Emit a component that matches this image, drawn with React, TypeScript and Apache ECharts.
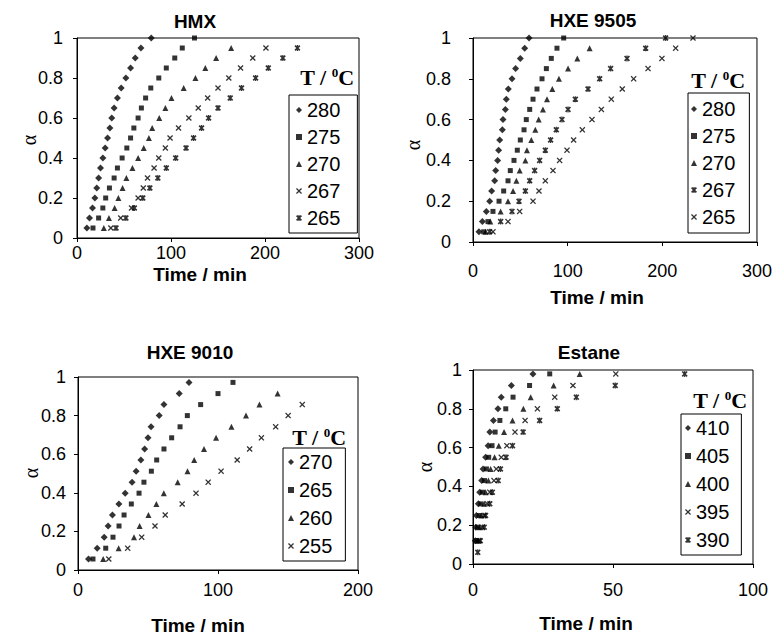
import React, { useEffect, useRef } from "react";
import * as echarts from "echarts";

// ---------- data ----------
const alpha20 = [0.05, 0.1, 0.15, 0.2, 0.25, 0.3, 0.35, 0.4, 0.45, 0.5, 0.55, 0.6, 0.65, 0.7, 0.75, 0.8, 0.85, 0.9, 0.95, 1.0];

// HMX (time / min)
const hmxT280 = [10.5, 13.3, 16.5, 19, 21, 23, 25, 27.5, 30, 32.5, 35, 37, 39.5, 43, 47, 52, 57, 62, 68, 79];
const hmxT275 = [17, 23, 27.5, 30.5, 34.5, 39.5, 43, 48, 53, 57, 60.5, 65, 68.5, 73, 78.5, 87, 95, 104, 112, 125];
const hmxT270 = [28.5, 34, 40, 44, 48.5, 52.5, 59, 65, 71, 76.5, 80, 87.5, 94, 100.5, 113.5, 126, 136.5, 148, 164];
const hmxT267 = [36, 46.5, 58, 65, 70.5, 75, 82, 87, 94, 99, 108, 119, 129, 139, 150, 161.5, 174, 187, 201];
const hmxT265 = [41.5, 52, 61, 70, 77.5, 86, 95, 105, 116, 124, 132.5, 140, 150, 163, 175, 190, 203.5, 219, 234.5];

// HXE 9505
const h95T280 = [6.3, 9.9, 14.1, 17.6, 19.7, 22.9, 24, 26, 27.1, 28.2, 31, 31.7, 34.2, 35.2, 37.3, 41.2, 45, 50, 54.6, 59.2];
const h95T275 = [11.3, 15.8, 21.1, 27.5, 32.4, 37, 39.4, 43.3, 46.8, 50, 53.9, 56.3, 59.9, 63.4, 67.6, 72.9, 77.5, 82.7, 88.7, 95.8];
const h95T270 = [13.4, 18.3, 29.2, 37, 42.3, 45.8, 49.3, 55.3, 57, 61.6, 65.8, 69.4, 73.9, 78.2, 83.8, 90.8, 100.4, 110.2, 123.2];
const h95T267 = [17.6, 29.2, 41.2, 48.6, 55.3, 59.9, 65.1, 70.4, 76.4, 82, 88, 94, 100.4, 108.1, 121.5, 133.8, 145.4, 162.7, 182.4, 203.5];
const h95T265 = [21.1, 37, 49.3, 63.4, 69.7, 76.4, 84.5, 91.5, 99.3, 106.3, 115.5, 125.7, 135.6, 146.1, 157.7, 169.7, 184.9, 199.6, 214.1, 232.4];

// HXE 9010
const alpha9010 = [0.057, 0.113, 0.17, 0.228, 0.285, 0.342, 0.398, 0.455, 0.512, 0.57, 0.627, 0.685, 0.742, 0.8, 0.857, 0.914, 0.972];
const h10T270 = [7.5, 13.7, 18.7, 21.5, 24.6, 29.2, 33.7, 38.6, 41.5, 44.9, 47.6, 50, 52.2, 58, 61.4, 72.3, 79.3];
const h10T265 = [10.7, 19.8, 25, 29.3, 32.9, 38.1, 43.6, 47.1, 52.4, 56.2, 61.4, 66.9, 72.9, 78.1, 87.6, 100, 110.7];
const h10T260 = [18, 29, 40, 44, 50.3, 56, 61.3, 71.2, 78.2, 83, 90, 98.6, 109.6, 120, 129.6, 142.6];
const h10T255 = [22, 35.5, 45.5, 55, 62.3, 74.4, 84.3, 93, 102.2, 113.7, 122.6, 131, 141.2, 150.1, 160.2];

// Estane
const alphaEst = [0.06, 0.12, 0.19, 0.25, 0.31, 0.37, 0.43, 0.49, 0.55, 0.61, 0.68, 0.74, 0.8, 0.86, 0.92, 0.98];
const estT410 = [0.8, 1.0, 1.2, 1.9, 2.4, 3.1, 3.6, 4.5, 5.4, 6, 7.3, 8.9, 10.1, 13.7, 21.4];
const estT405 = [1.3, 1.6, 2.2, 2.8, 3.4, 4.1, 4.8, 5.6, 6.8, 7.9, 9.6, 11.7, 14.3, 20.2, 27.4];
const estT400 = [1.7, 2.4, 3, 4, 4.5, 5.5, 6.3, 7.7, 9.2, 11.1, 14.1, 18, 20.6, 28.8, 38.1];
const estT395 = [2.2, 3.3, 4, 5.1, 6, 7.5, 8.3, 10.1, 12.1, 15, 18.6, 23, 29.2, 35.7, 51];
const estT390 = [1.7, 2.6, 4, 4.5, 6, 6.9, 9, 9.8, 11.8, 14.1, 17.9, 23.8, 30.1, 36.9, 50.8, 75.6];

const panelTitles = ["HMX", "HXE 9505", "HXE 9010", "Estane"];
const xMax = [300, 300, 200, 100];
const xInterval = [100, 100, 100, 50];

// ---------- symbols ----------
const X_THIN = "path://M1.5,0L5,3.5L8.5,0L10,1.5L6.5,5L10,8.5L8.5,10L5,6.5L1.5,10L0,8.5L3.5,5L0,1.5Z";
const X_STAR =
  "path://M0,2L2,0L5,3L8,0L10,2L7,5L10,8L8,10L5,7L2,10L0,8L3,5Z M4,0L6,0L6,10L4,10Z";
const SYM: Record<string, [string, number]> = {
  dia: ["diamond", 7],
  sq: ["rect", 5],
  tri: ["triangle", 6],
  x: [X_THIN, 6],
  star: [X_STAR, 6],
};

const FONT = "Liberation Sans";

function sc(panel: string, label: string, times: number[], alphas: number[], sym: string, idx: number) {
  return {
    type: "scatter",
    name: panel + "|" + label,
    xAxisIndex: idx,
    yAxisIndex: idx,
    symbol: SYM[sym][0],
    symbolSize: SYM[sym][1],
    data: times.map((t, i) => [t, alphas[i]]),
    itemStyle: { color: "#000" },
    silent: true,
  };
}

export default function App() {
  const ref = useRef<HTMLDivElement>(null);
  useEffect(() => {
    if (!ref.current) return;
    const chart = echarts.init(ref.current, undefined, { renderer: "svg" });

    const grids = [
      { left: 77, top: 38, width: 282, height: 200 },
      { left: 473, top: 38, width: 284, height: 204 },
      { left: 78, top: 377, width: 280, height: 193 },
      { left: 473, top: 370, width: 280, height: 194 },
    ].map((g) => ({ ...g, show: true, borderColor: "#000", borderWidth: 1, backgroundColor: "transparent" }));

    const xLabelMargin = [6, 20, 11, 17];
    const yLabelMargin = [14, 22, 12, 11];

    const xAxes = grids.map((_, i) => ({
      type: "value",
      gridIndex: i,
      min: 0,
      max: xMax[i],
      interval: xInterval[i],
      axisLine: { show: true, onZero: false, lineStyle: { color: "#000", width: 1 } },
      axisTick: { show: true, inside: false, length: 4, lineStyle: { color: "#000" } },
      axisLabel: { fontSize: 18, color: "#000", fontFamily: FONT, margin: xLabelMargin[i] },
      splitLine: { show: false },
    }));
    const yAxes = grids.map((_, i) => ({
      type: "value",
      gridIndex: i,
      min: 0,
      max: 1,
      interval: 0.2,
      axisLine: { show: true, onZero: false, lineStyle: { color: "#000", width: 1 } },
      axisTick: { show: true, inside: false, length: 4, lineStyle: { color: "#000" } },
      axisLabel: { fontSize: 18, color: "#000", fontFamily: FONT, margin: yLabelMargin[i] },
      splitLine: { show: false },
    }));

    const a19 = alpha20.slice(0, 19);
    const series = [
      sc("HMX", "280", hmxT280, alpha20, "dia", 0),
      sc("HMX", "275", hmxT275, alpha20, "sq", 0),
      sc("HMX", "270", hmxT270, a19, "tri", 0),
      sc("HMX", "267", hmxT267, a19, "x", 0),
      sc("HMX", "265", hmxT265, a19, "star", 0),
      sc("9505", "280", h95T280, alpha20, "dia", 1),
      sc("9505", "275", h95T275, alpha20, "sq", 1),
      sc("9505", "270", h95T270, a19, "tri", 1),
      sc("9505", "267", h95T267, alpha20, "star", 1),
      sc("9505", "265", h95T265, alpha20, "x", 1),
      sc("9010", "270", h10T270, alpha9010, "dia", 2),
      sc("9010", "265", h10T265, alpha9010, "sq", 2),
      sc("9010", "260", h10T260, alpha9010, "tri", 2),
      sc("9010", "255", h10T255, alpha9010, "x", 2),
      sc("Est", "410", estT410, alphaEst.slice(1), "dia", 3),
      sc("Est", "405", estT405, alphaEst.slice(1), "sq", 3),
      sc("Est", "400", estT400, alphaEst.slice(1), "tri", 3),
      sc("Est", "395", estT395, alphaEst.slice(1), "x", 3),
      sc("Est", "390", estT390, alphaEst, "star", 3),
    ];

    const legendBase = {
      orient: "vertical",
      selectedMode: false,
      itemWidth: 6,
      itemHeight: 6,
      borderColor: "#000",
      borderWidth: 1,
      borderRadius: 0,
      backgroundColor: "#fff",
      textStyle: { fontSize: 20, color: "#000", fontFamily: FONT },
      formatter: (name: string) => name.split("|")[1],
    };
    const names = (p: string) => series.filter((s) => s.name.startsWith(p + "|")).map((s) => s.name);
    const legends = [
      { ...legendBase, data: names("HMX"), left: 289, top: 95, itemGap: 7, padding: [5, 17, 5, 7] },
      { ...legendBase, data: names("9505"), left: 688, top: 93, itemGap: 7, padding: [6, 14, 6, 3] },
      { ...legendBase, data: names("9010"), left: 283, top: 448, itemGap: 8, padding: [4, 13, 5, 5] },
      { ...legendBase, data: names("Est"), left: 681, top: 414, itemGap: 8, padding: [4, 12, 5, 4] },
    ];

    const txt = (text: string, x: number, y: number, size: number, bold: boolean, rot = 0, family = FONT) => ({
      type: "text",
      x,
      y,
      rotation: rot,
      silent: true,
      style: {
        text,
        fill: "#000",
        fontSize: size,
        fontWeight: bold ? "bold" : "normal",
        fontFamily: family,
        textAlign: "center",
        textVerticalAlign: "middle",
        align: "center",
        verticalAlign: "middle",
      },
    });
    const tUnit = (x: number, y: number) => ({
      type: "text",
      x,
      y,
      silent: true,
      style: {
        text: "{a|T / }{b|0}{a|C}",
        fill: "#000",
        textAlign: "center",
        textVerticalAlign: "middle",
        align: "center",
        verticalAlign: "middle",
        rich: {
          a: { fontSize: 22, fontWeight: "bold", fontFamily: "Liberation Serif", fill: "#000" },
          b: { fontSize: 13, fontWeight: "bold", fontFamily: "Liberation Serif", fill: "#000", verticalAlign: "top" },
        },
      },
    });

    const titlePos = [
      [195, 21],
      [593, 20],
      [190, 352],
      [589, 352],
    ];
    const xNamePos = [
      [200, 274],
      [597, 297],
      [198, 625],
      [586, 623],
    ];
    const alphaPos = [
      [29, 140],
      [413, 145],
      [31, 473],
      [425, 467],
    ];
    const unitPos = [
      [327, 77],
      [718, 80],
      [319, 437],
      [720, 400],
    ];

    const graphics: any[] = [];
    for (let i = 0; i < 4; i++) {
      graphics.push(txt(panelTitles[i], titlePos[i][0], titlePos[i][1], 19, true));
      graphics.push(txt("Time / min", xNamePos[i][0], xNamePos[i][1], 19, true));
      graphics.push(txt("α", alphaPos[i][0], alphaPos[i][1], 20, false, Math.PI / 2, "Liberation Serif"));
      graphics.push(tUnit(unitPos[i][0], unitPos[i][1]));
    }

    chart.setOption({
      animation: false,
      backgroundColor: "#fff",
      textStyle: { fontFamily: FONT },
      grid: grids,
      xAxis: xAxes,
      yAxis: yAxes,
      legend: legends,
      series,
      graphic: graphics,
    });
    return () => chart.dispose();
  }, []);
  return <div ref={ref} style={{ position: "absolute", left: 0, top: 0, width: 775, height: 634 }} />;
}
